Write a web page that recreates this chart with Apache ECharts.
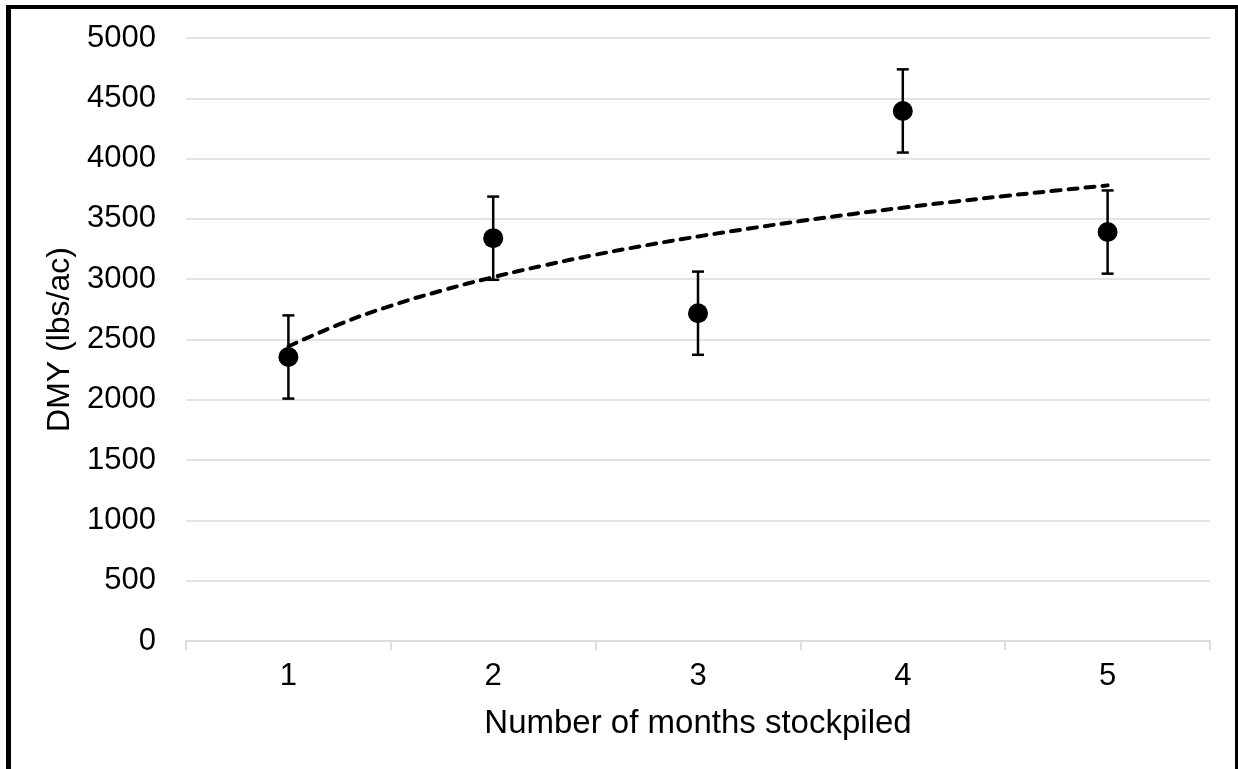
<!DOCTYPE html>
<html>
<head>
<meta charset="utf-8">
<script src="https://cdn.jsdelivr.net/npm/echarts@6/dist/echarts.min.js"></script>
<style>
html,body{margin:0;padding:0;background:#fff;}
#frame{position:absolute;left:6px;top:5px;width:1232px;height:780px;border-left:5px solid #000;border-top:4px solid #000;border-right:3px solid #000;box-sizing:border-box;}
#chart{position:absolute;left:0;top:0;width:1238px;height:769px;}
</style>
</head>
<body>
<div id="chart"></div>
<div id="frame"></div>
<script>
const categories = ['1', '2', '3', '4', '5'];
const months = [1, 2, 3, 4, 5];
const dmy = [2355, 3340, 2718, 4395, 3391];
const errorAmount = [345, 345, 345, 345, 345];
const trendX = [1, 1.25, 1.5, 1.75, 2, 2.25, 2.5, 2.75, 3, 3.25, 3.5, 3.75, 4, 4.25, 4.5, 4.75, 5];
const trendY = [2442, 2627, 2779, 2906, 3017, 3115, 3203, 3282, 3354, 3420, 3482, 3539, 3593, 3643, 3690, 3735, 3778];
const yTicks = [0, 500, 1000, 1500, 2000, 2500, 3000, 3500, 4000, 4500, 5000];

const font = 'Liberation Sans, Arial, sans-serif';
const chart = echarts.init(document.getElementById('chart'), null, {renderer: 'canvas'});

const errData = months.map((m, i) => [m, dmy[i] - errorAmount[i], dmy[i] + errorAmount[i]]);

chart.setOption({
  animation: false,
  backgroundColor: '#ffffff',
  grid: {left: 186, right: 28, top: 38, bottom: 128},
  xAxis: [
    {
      type: 'category',
      data: categories,
      boundaryGap: true,
      axisLine: {show: true, lineStyle: {color: '#d9dde3', width: 2}},
      axisTick: {show: true, length: 9, lineStyle: {color: '#d9dde3', width: 2}},
      axisLabel: {color: '#000', fontSize: 31, fontFamily: font, margin: 20},
      splitLine: {show: false},
      name: 'Number of months stockpiled',
      nameLocation: 'middle',
      nameGap: 66,
      nameTextStyle: {color: '#000', fontSize: 33, fontFamily: font}
    },
    {
      type: 'value',
      min: 0.5,
      max: 5.5,
      show: false
    }
  ],
  yAxis: {
    type: 'value',
    min: yTicks[0],
    max: yTicks[yTicks.length - 1],
    interval: 500,
    axisLine: {show: false},
    axisTick: {show: false},
    axisLabel: {color: '#000', fontSize: 31, fontFamily: font, margin: 30, formatter: v => String(v)},
    splitLine: {show: true, lineStyle: {color: '#e1e4e8', width: 2}},
    name: 'DMY (lbs/ac)',
    nameLocation: 'middle',
    nameGap: 108,
    nameTextStyle: {color: '#000', fontSize: 32, fontFamily: font}
  },
  series: [
    {
      type: 'line',
      xAxisIndex: 1,
      data: trendX.map((x, i) => [x, trendY[i]]),
      smooth: true,
      symbol: 'none',
      lineStyle: {color: '#000', width: 4, type: [9, 8], cap: 'round'},
      z: 3
    },
    {
      type: 'custom',
      xAxisIndex: 1,
      data: errData,
      renderItem: function (params, api) {
        const x = api.value(0);
        const lo = api.coord([x, api.value(1)]);
        const hi = api.coord([x, api.value(2)]);
        const hw = 6;
        const style = {stroke: '#000', lineWidth: 2.5};
        return {
          type: 'group',
          children: [
            {type: 'line', shape: {x1: lo[0], y1: lo[1], x2: hi[0], y2: hi[1]}, style: style},
            {type: 'line', shape: {x1: lo[0] - hw, y1: lo[1], x2: lo[0] + hw, y2: lo[1]}, style: style},
            {type: 'line', shape: {x1: hi[0] - hw, y1: hi[1], x2: hi[0] + hw, y2: hi[1]}, style: style}
          ]
        };
      },
      z: 4
    },
    {
      type: 'scatter',
      xAxisIndex: 1,
      data: months.map((m, i) => [m, dmy[i]]),
      symbol: 'circle',
      symbolSize: 20,
      itemStyle: {color: '#000', opacity: 1},
      z: 5
    }
  ]
});
</script>
</body>
</html>
